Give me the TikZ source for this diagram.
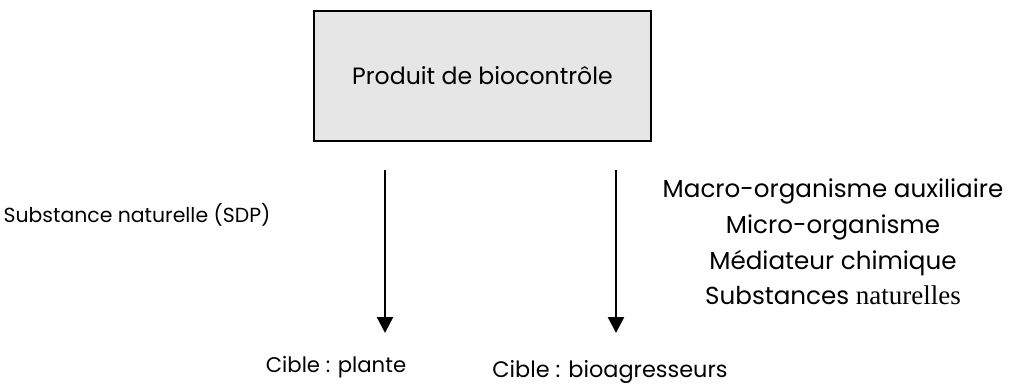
\documentclass[tikz,border=0pt]{standalone}
\usepackage{fontspec}
\usepackage{tikz}
\usepackage{xcolor}
\usetikzlibrary{arrows.meta}
\setmainfont{Poppins}
\newfontfamily\timesfont{Liberation Serif}
\definecolor{boxgray}{HTML}{E6E6E6}

\begin{document}
\begin{tikzpicture}
  [x=0.5pt,y=-0.5pt,every node/.style={inner sep=0pt,font=\fontsize{11.8}{18}\selectfont},
   prodbox/.style={draw,line width=1pt,fill=boxgray,minimum width=168.5pt,minimum height=65pt},
   flow/.style={line width=1.2pt,-{Triangle[length=8pt,width=8pt]}}]

  \useasboundingbox (0,0) rectangle (1010,391);

  \node[prodbox] (prod) at (482.5,76) {Produit de biocontrôle};

  \coordinate (t1) at (385,170);
  \coordinate (b1) at (385,333);
  \coordinate (t2) at (616,170);
  \coordinate (b2) at (616,333);

  \node[font=\fontsize{10.2}{18}\selectfont] (sdp) at (137,215) {Substance naturelle (SDP)};
  \node[align=center,font=\fontsize{12.3}{17.9}\selectfont] (agents) at (833,242)
    {Macro-organisme auxiliaire\\Micro-organisme\\Médiateur chimique\\Substances {\timesfont\fontsize{13.5}{17.9}\selectfont naturelles}};

  \node[font=\fontsize{10.6}{18}\selectfont] (plante) at (336,367) {Cible : plante};
  \node[font=\fontsize{11.2}{18}\selectfont] (bioag) at (610,372) {Cible : bioagresseurs};

  \foreach \from/\to in {t1/b1,t2/b2}
    \draw[flow] (\from) -- (\to);
\end{tikzpicture}
\end{document}
